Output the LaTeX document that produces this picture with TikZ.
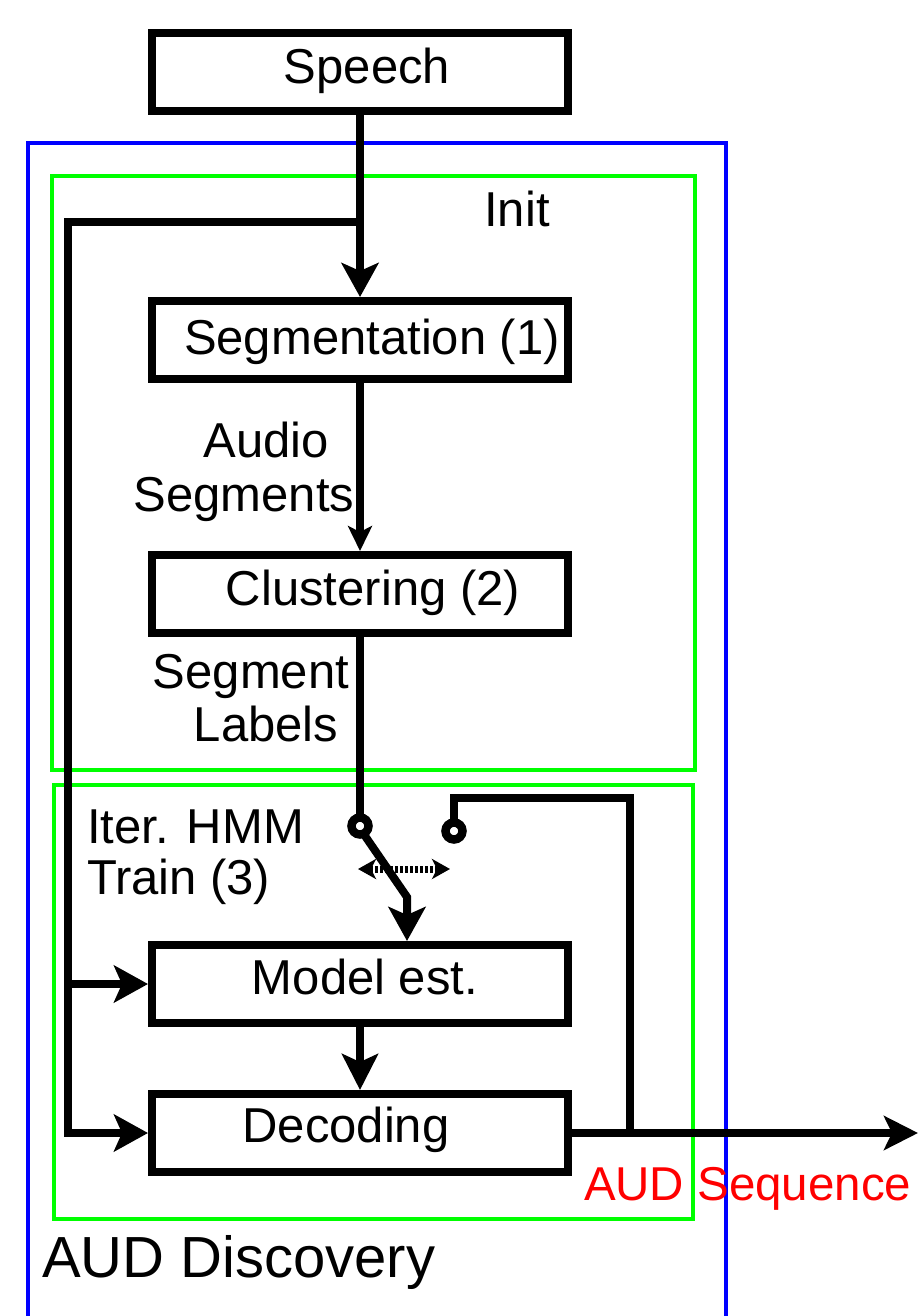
\documentclass[tikz,border=0pt]{standalone}
\usepackage{fontspec}
\setmainfont{Liberation Sans}
\usetikzlibrary{arrows.meta}
\begin{document}
\begin{tikzpicture}[x=1pt,y=-1pt,line width=8pt,line join=miter,
  box/.style={draw,rectangle,minimum width=416pt,minimum height=78pt,inner sep=0pt,line width=8pt},
  sw/.style={draw,circle,fill=white,minimum size=17pt,inner sep=0pt,line width=8.5pt},
  txt/.style={inner sep=0pt,anchor=base,font=\fontsize{49}{56}\selectfont},
  ltxt/.style={txt,anchor=base west},
  arr/.style={-{Stealth[length=34pt,width=37pt,inset=8pt]}},
  arrm/.style={-{Stealth[length=36pt,width=36pt,inset=8pt]}},
  arrs/.style={-{Stealth[length=25pt,width=24pt,inset=6pt]}},
  dotarr/.style={{Stealth[length=18pt,width=20pt,inset=5pt]}-{Stealth[length=18pt,width=20pt,inset=5pt]},line width=7pt,dash pattern=on 2.5pt off 2.5pt},
  grn/.style={draw={rgb,255:red,0;green,255;blue,0},line width=4pt},
  blu/.style={draw={rgb,255:red,0;green,0;blue,255},line width=4pt}]
\useasboundingbox (0,0) rectangle (918,1316);
% frames
\draw[blu] (28,1340) -- (28,143) -- (726,143) -- (726,1340);
\draw[grn] (52,176) rectangle (695,770);
\draw[grn] (54,785) rectangle (693,1219);
% boxes
\node[box] (speech) at (360,72) {};
\node[box] (seg) at (360,340) {};
\node[box] (clu) at (360,594) {};
\node[box] (model) at (360,984) {};
\node[box] (dec) at (360,1133) {};
% coordinates
\coordinate (br) at (360,222);
\coordinate (lt) at (68,222);
\coordinate (lm) at (68,984);
\coordinate (lb) at (68,1133);
\coordinate (k) at (407,897);
\coordinate (r1) at (454,798);
\coordinate (r2) at (630,798);
\coordinate (r3) at (630,1133);
\coordinate (outend) at (918,1133);
\coordinate (d1) at (358,869);
\coordinate (d2) at (450,869);
% connectors
\draw[arr] (speech.south) -- (seg.north);
\draw[arr] (br) -- (lt) -- (lb) -- (dec.west);
\draw[arr] (lm) -- (model.west);
\draw[arrs] (seg.south) -- (clu.north);
\draw[arrm] (model.south) -- (dec.north);
\draw (clu.south) -- (360,818);
\draw[arr] (363,833) -- (k) -- (k |- model.north);
\draw (454,822) -- (r1) -- (r2) -- (r3);
\draw[-{Stealth[length=34pt,width=34pt,inset=8pt]}] (dec.east) -- (outend);
\draw[dotarr] (d1) -- (d2);
\node[sw] (c1) at (360,826) {};
\node[sw] (c2) at (454,831) {};
% texts
\node[txt] (tsp) at (367,84) {Speech};
\node[txt] (tseg) at (372,354) {Segmentation (1)};
\node[txt] (tclu) at (373,605) {Clustering (2)};
\node[txt] (tmod) at (365,994) {Model est.};
\node[txt] (tdec) at (346,1142) {Decoding};
\node[txt] (tinit) at (517,226) {Init};
\node[txt] (tau) at (266,457) {Audio};
\node[txt] (tsg) at (244,511) {Segments};
\node[txt] (tsm) at (251,688) {Segment};
\node[txt] (tlb) at (266,741) {Labels};
\node[ltxt] (tit) at (83,843) {Iter. HMM};
\node[ltxt] (ttr) at (83,894) {Train (3)};
\node[ltxt,text=red,font=\fontsize{47.5}{56}\selectfont] (tseq) at (580,1200) {AUD Sequence};
\node[ltxt,font=\fontsize{58}{66}\selectfont] (tdis) at (38,1277) {AUD Discovery};
\end{tikzpicture}
\end{document}
